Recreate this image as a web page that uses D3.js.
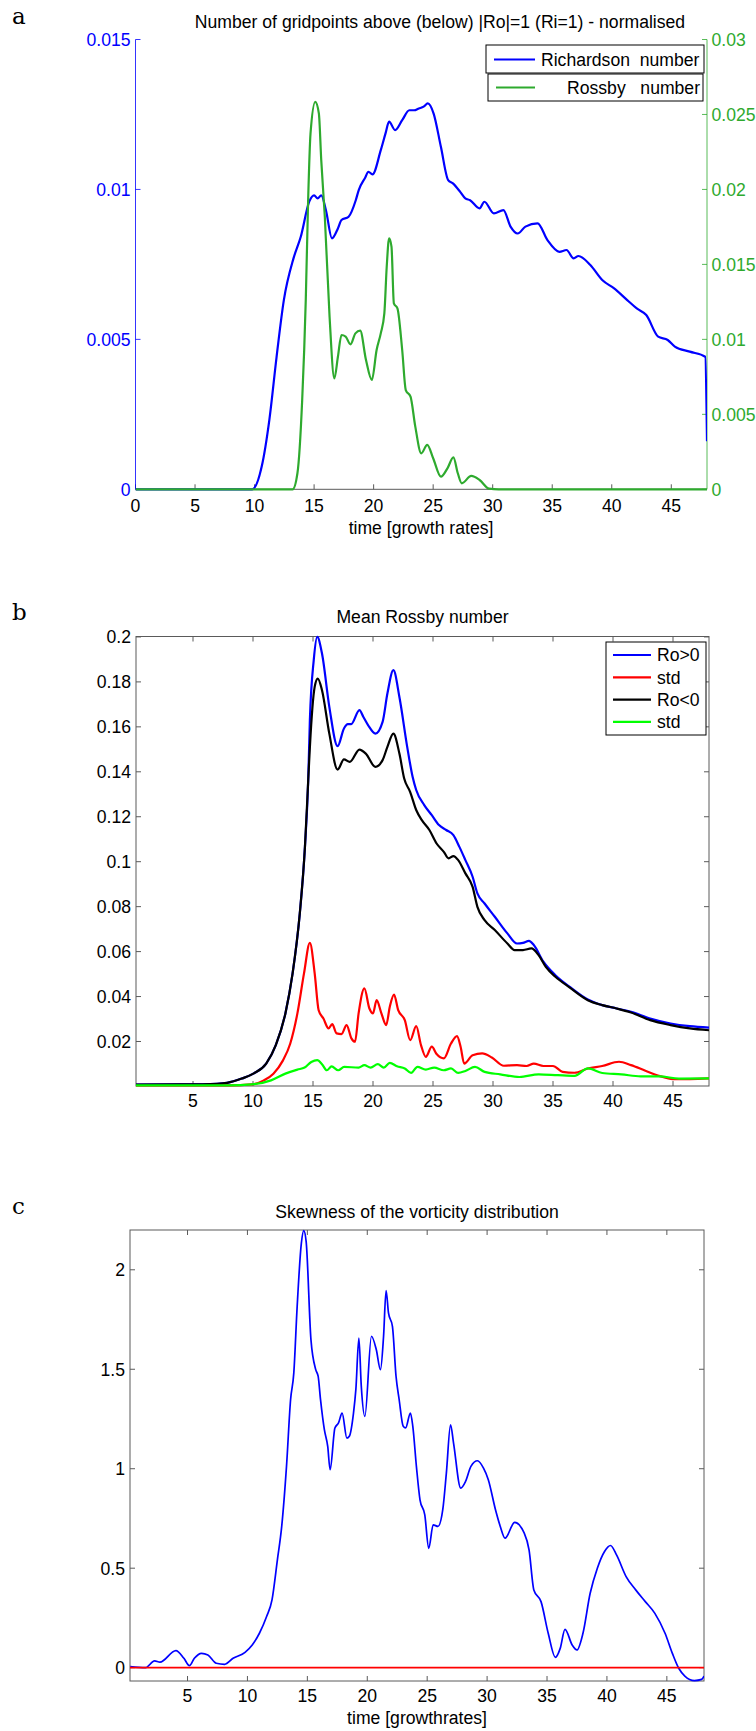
<!DOCTYPE html>
<html>
<head>
<meta charset="utf-8">
<script src="https://cdn.jsdelivr.net/npm/d3@7"></script>
<style>
	body { margin: 0; background: #fff; }
	text { font-family: "Liberation Sans", Arial, sans-serif; font-size: 17.6px; }
	.panel_Letter { font-family: "DejaVu Serif", "Liberation Serif", serif; font-size: 23px; }
</style>
</head>
<body>
<svg id="figure" width="756" height="1731"></svg>
<script>

/* PANEL A : gridpoints above (below) |Ro|=1 (Ri=1) */
var richardson_Time = [0, 9.8, 10.6, 11.24, 11.85, 12.46, 13.27, 13.88, 14.6, 15.0, 15.3, 15.6, 16.0, 16.5, 17.0, 17.3, 17.9, 18.5, 18.75, 19.3, 19.56, 19.9, 20.6, 21.0, 21.3, 21.8, 22.4, 23.0, 23.4, 23.8, 24.2, 24.55, 25.04, 25.65, 26.26, 26.66, 27.27, 27.7, 28.1, 28.9, 29.3, 30.1, 30.9, 31.5, 32.1, 32.75, 33.77, 34.6, 35.6, 36.2, 36.8, 37.2, 38.2, 39.2, 40.2, 41.3, 42.1, 42.9, 43.9, 44.7, 45.3, 46.55, 47.85, 48];
var richardson_Value = [0, 0, 0.00076, 0.00231, 0.00442, 0.00631, 0.0077, 0.00842, 0.0096, 0.0098, 0.0097, 0.0098, 0.0093, 0.00837, 0.0087, 0.00898, 0.00909, 0.00964, 0.00998, 0.0104, 0.01059, 0.0105, 0.01131, 0.01187, 0.01226, 0.01198, 0.01231, 0.01264, 0.01264, 0.0127, 0.01276, 0.01287, 0.01253, 0.01142, 0.01031, 0.0102, 0.00992, 0.0097, 0.00964, 0.00937, 0.00959, 0.0092, 0.00931, 0.00876, 0.00853, 0.00876, 0.00887, 0.00831, 0.00792, 0.00798, 0.0077, 0.00778, 0.00748, 0.00698, 0.0067, 0.00631, 0.00603, 0.00581, 0.00509, 0.00498, 0.00476, 0.00459, 0.00442, 0.0016];

var rossby_Time = [0, 13.2, 13.6, 14.0, 14.3, 14.5, 14.7, 15.1, 15.4, 15.6, 15.9, 16.3, 16.7, 17.0, 17.3, 17.65, 18.06, 18.47, 18.87, 19.36, 19.85, 20.25, 20.6, 20.9, 21.1, 21.3, 21.5, 21.7, 22.0, 22.4, 22.7, 23.1, 23.5, 24.0, 24.5, 25.0, 25.65, 26.2, 26.7, 27.07, 27.4, 28.2, 28.9, 29.7, 30.5, 48];
var rossby_Value = [0, 0, 0.00107, 0.00596, 0.0126, 0.0193, 0.02373, 0.02584, 0.02507, 0.02196, 0.01818, 0.01151, 0.0074, 0.00884, 0.01029, 0.01018, 0.00967, 0.0104, 0.01058, 0.00862, 0.00729, 0.00929, 0.0104, 0.01173, 0.01484, 0.01673, 0.01618, 0.0124, 0.01207, 0.00929, 0.00662, 0.00618, 0.00418, 0.0024, 0.00296, 0.00207, 0.00084, 0.0014, 0.00213, 0.00107, 0.0004, 0.00089, 0.00062, 0.00004, 0, 0];

var a_X_Ticks = [0, 5, 10, 15, 20, 25, 30, 35, 40, 45];
var a_Left_Ticks = [0, 0.005, 0.01, 0.015];
var a_Right_Ticks = [0, 0.005, 0.01, 0.015, 0.02, 0.025, 0.03];

/* PANEL B : mean Rossby number */
var ro_Positive_Time = [0.25, 4, 7, 7.84, 9.06, 10.07, 11.1, 11.9, 12.7, 13.3, 13.9, 14.33, 14.6, 14.74, 15.06, 15.35, 15.75, 16.36, 17.05, 17.58, 17.9, 18.18, 18.87, 19.2, 19.6, 20.2, 20.8, 21.2, 21.7, 22.2, 22.85, 23.3, 23.6, 24.27, 24.9, 25.5, 26.1, 26.7, 27.2, 27.7, 28.3, 28.7, 29.3, 30.15, 31.2, 32.0, 32.5, 33.0, 33.4, 34.2, 35.2, 36.4, 37.9, 39.1, 40.3, 41.5, 43.1, 44.8, 46.4, 48];
var ro_Positive_Value = [0.0008, 0.0009, 0.0012, 0.0016, 0.0035, 0.0058, 0.0102, 0.0184, 0.0325, 0.0503, 0.077, 0.1067, 0.136, 0.163, 0.1896, 0.2, 0.1926, 0.1689, 0.1514, 0.1593, 0.1612, 0.1612, 0.1674, 0.1644, 0.1607, 0.157, 0.1622, 0.1748, 0.1852, 0.1733, 0.1511, 0.1378, 0.1319, 0.1252, 0.1207, 0.1163, 0.1141, 0.1118, 0.1066, 0.1007, 0.0933, 0.0859, 0.0814, 0.0755, 0.0681, 0.0636, 0.0639, 0.0648, 0.0629, 0.0555, 0.0495, 0.0443, 0.0387, 0.0362, 0.0347, 0.0332, 0.0302, 0.028, 0.0268, 0.0262];

var ro_Positive_Std_Time = [0.25, 8, 9.9, 10.9, 11.7, 12.5, 13.1, 13.7, 14.25, 14.74, 15.14, 15.47, 15.87, 16.3, 16.6, 16.97, 17.37, 17.8, 18.2, 18.5, 18.8, 19.28, 19.7, 20.0, 20.3, 20.7, 21.1, 21.4, 21.75, 22.1, 22.65, 23.1, 23.6, 24.0, 24.4, 24.9, 25.3, 25.9, 26.5, 27.0, 27.3, 27.6, 28.3, 29.1, 29.9, 30.9, 32.0, 32.8, 33.4, 34.2, 35.0, 35.8, 36.8, 37.9, 39.1, 40.5, 41.5, 42.7, 43.9, 45.2, 46.4, 48];
var ro_Positive_Std_Value = [0.0005, 0.0005, 0.0009, 0.0027, 0.0057, 0.0116, 0.019, 0.0325, 0.0503, 0.0639, 0.0503, 0.0339, 0.0302, 0.0258, 0.0277, 0.0236, 0.0233, 0.0273, 0.0214, 0.0199, 0.0325, 0.0436, 0.0347, 0.0325, 0.0384, 0.0325, 0.0273, 0.0355, 0.0409, 0.034, 0.0295, 0.0206, 0.0268, 0.0184, 0.0132, 0.0177, 0.0144, 0.0125, 0.0191, 0.0224, 0.0177, 0.0102, 0.0139, 0.0147, 0.0129, 0.0092, 0.0095, 0.0091, 0.0102, 0.0091, 0.0091, 0.0065, 0.0061, 0.008, 0.0091, 0.011, 0.0095, 0.007, 0.0046, 0.0032, 0.0033, 0.0036];

var ro_Negative_Time = [0.25, 4, 7, 7.84, 9.06, 10.07, 11.1, 11.9, 12.7, 13.3, 13.9, 14.33, 14.6, 14.74, 15.14, 15.4, 15.75, 16.36, 17.05, 17.58, 18.06, 18.87, 19.4, 20.2, 20.8, 21.2, 21.7, 22.2, 22.6, 23.1, 23.6, 24.07, 24.7, 25.3, 25.9, 26.3, 26.7, 27.1, 27.7, 28.3, 28.7, 29.3, 30.15, 31.2, 31.8, 32.5, 33.2, 33.8, 34.4, 35.2, 36.4, 37.9, 39.1, 40.3, 41.5, 43.1, 44.8, 46.4, 48];
var ro_Negative_Value = [0.0008, 0.0009, 0.0012, 0.0016, 0.0035, 0.0058, 0.0102, 0.0184, 0.0325, 0.0503, 0.077, 0.1067, 0.136, 0.151, 0.1778, 0.1815, 0.1763, 0.157, 0.141, 0.1455, 0.1444, 0.1499, 0.1481, 0.1422, 0.1452, 0.1511, 0.157, 0.1481, 0.137, 0.131, 0.123, 0.1185, 0.1141, 0.1081, 0.1044, 0.1015, 0.1025, 0.1007, 0.0948, 0.0888, 0.0799, 0.074, 0.0696, 0.0636, 0.0607, 0.0607, 0.0614, 0.0584, 0.0532, 0.0488, 0.044, 0.0384, 0.0362, 0.0347, 0.0329, 0.0295, 0.0273, 0.0258, 0.025];

var ro_Negative_Std_Time = [0.25, 8, 9.9, 11.5, 12.7, 13.7, 14.3, 14.86, 15.35, 15.75, 16.15, 16.55, 17.1, 17.6, 18.8, 19.28, 19.8, 20.4, 20.9, 21.4, 22.0, 22.65, 23.17, 23.7, 24.4, 25.1, 25.9, 26.5, 27.1, 27.7, 28.5, 29.3, 30.6, 32.2, 33.8, 35.4, 36.8, 37.9, 39.1, 40.7, 42.3, 43.9, 45.5, 48];
var ro_Negative_Std_Value = [0.0005, 0.0005, 0.0009, 0.0027, 0.0057, 0.0075, 0.0084, 0.0109, 0.0117, 0.0099, 0.0072, 0.0089, 0.0072, 0.0087, 0.0084, 0.0095, 0.0084, 0.0099, 0.0084, 0.0105, 0.009, 0.008, 0.006, 0.0087, 0.0075, 0.0084, 0.0072, 0.008, 0.006, 0.0069, 0.0087, 0.0065, 0.0054, 0.0042, 0.0054, 0.005, 0.0047, 0.008, 0.006, 0.0054, 0.0045, 0.0045, 0.0035, 0.0036];

var b_X_Ticks = [5, 10, 15, 20, 25, 30, 35, 40, 45];
var b_Y_Ticks = [0.02, 0.04, 0.06, 0.08, 0.1, 0.12, 0.14, 0.16, 0.18, 0.2];
var b_Legend_Labels = ["Ro>0", "std", "Ro<0", "std"];

/* PANEL C : skewness of the vorticity distribution */
var skewness_Time = [0.22, 1.5, 2.25, 2.7, 4.03, 4.7, 5.16, 5.57, 6.17, 6.7, 7.4, 8.1, 8.8, 9.8, 10.4, 11.0, 11.6, 12.05, 12.5, 12.86, 13.26, 13.6, 13.87, 14.15, 14.5, 14.7, 14.9, 15.3, 15.7, 15.9, 16.1, 16.42, 16.7, 16.9, 17.3, 17.6, 17.9, 18.3, 18.5, 18.85, 19.05, 19.3, 19.5, 19.8, 20.35, 20.75, 21.1, 21.36, 21.57, 21.77, 22.1, 22.4, 22.66, 23.0, 23.2, 23.6, 23.8, 24.1, 24.4, 24.8, 25.13, 25.5, 25.9, 26.3, 26.6, 26.95, 27.2, 27.8, 28.2, 28.65, 29.2, 29.7, 30.1, 30.7, 31.1, 31.5, 32.3, 33.1, 33.5, 33.9, 34.5, 35.1, 35.7, 36.1, 36.5, 37.1, 37.5, 38.0, 38.6, 39.2, 39.8, 40.3, 40.8, 41.6, 42.4, 43.2, 44.0, 44.85, 45.46, 45.99, 46.5, 47.3, 47.9, 48.1];
var skewness_Value = [0.005, 0, 0.034, 0.028, 0.086, 0.047, 0.01, 0.047, 0.072, 0.064, 0.022, 0.017, 0.047, 0.077, 0.114, 0.173, 0.257, 0.341, 0.542, 0.71, 1.012, 1.347, 1.482, 1.816, 2.134, 2.197, 2.142, 1.649, 1.498, 1.465, 1.347, 1.196, 1.112, 0.995, 1.205, 1.23, 1.28, 1.154, 1.163, 1.28, 1.4, 1.657, 1.415, 1.263, 1.666, 1.599, 1.498, 1.666, 1.896, 1.783, 1.716, 1.465, 1.348, 1.213, 1.205, 1.28, 1.213, 1.012, 0.844, 0.768, 0.6, 0.718, 0.71, 0.794, 0.978, 1.221, 1.129, 0.903, 0.936, 1.012, 1.04, 1.003, 0.945, 0.794, 0.71, 0.651, 0.73, 0.676, 0.592, 0.391, 0.332, 0.173, 0.052, 0.097, 0.193, 0.114, 0.089, 0.173, 0.374, 0.5, 0.584, 0.614, 0.567, 0.458, 0.391, 0.332, 0.273, 0.173, 0.072, -0.003, -0.042, -0.065, -0.059, -0.042];

var c_X_Ticks = [5, 10, 15, 20, 25, 30, 35, 40, 45];
var c_Y_Ticks = [0, 0.5, 1, 1.5, 2];


/* APPLICATION COLOURS */
var blue_Colour = "#0000ff";
var dark_Green_Colour = "#2eaa2e";
var bright_Green_Colour = "#00ff00";
var red_Colour = "#ff0000";
var axis_Colour = "#5a5a5a";

var svg = d3.select("#figure");

/*
	Name:		tick_Label
	Operations:	1) matlab style number, no trailing zeros
*/
function tick_Label(value){
	return String(+value.toFixed(4));
}

/*
	Name:		zip_Series
	Operations:	1) join time and value arrays into points
*/
function zip_Series(time, value){
	return time.map(function(t, index){ return [t, value[index]]; });
}

/*
	Name:		draw_Line
	Operations:	1) append smooth path through points using given scales
*/
function draw_Line(group, points, x, y, colour, width){
	var line = d3.line()
				 .x(function(d){ return x(d[0]); })
				 .y(function(d){ return y(d[1]); })
				 .curve(d3.curveMonotoneX);

	group.append("path")
		 .attr("d", line(points))
		 .attr("fill", "none")
		 .attr("stroke", colour)
		 .attr("stroke-width", width)
		 .attr("stroke-linejoin", "round");
}

/*
	Name:		draw_Box_Axes
	Operations:	1) box with inner ticks on four sides (panels b and c)
*/
function draw_Box_Axes(x, y, x_Ticks, y_Ticks, label_Baseline){
	var x0 = x.range()[0], x1 = x.range()[1];
	var y0 = y.range()[0], y1 = y.range()[1];
	var g = svg.append("g");

	g.append("rect")
	 .attr("x", x0).attr("y", y1)
	 .attr("width", x1 - x0).attr("height", y0 - y1)
	 .attr("fill", "none").attr("stroke", axis_Colour).attr("stroke-width", 1);

	x_Ticks.forEach(function(t){
		g.append("line").attr("x1", x(t)).attr("x2", x(t)).attr("y1", y0).attr("y2", y0 - 5).attr("stroke", axis_Colour);
		g.append("line").attr("x1", x(t)).attr("x2", x(t)).attr("y1", y1).attr("y2", y1 + 5).attr("stroke", axis_Colour);
		g.append("text").attr("x", x(t)).attr("y", label_Baseline).attr("text-anchor", "middle").text(tick_Label(t));
	});

	y_Ticks.forEach(function(v){
		g.append("line").attr("x1", x0).attr("x2", x0 + 5).attr("y1", y(v)).attr("y2", y(v)).attr("stroke", axis_Colour);
		g.append("line").attr("x1", x1).attr("x2", x1 - 5).attr("y1", y(v)).attr("y2", y(v)).attr("stroke", axis_Colour);
		g.append("text").attr("x", x0 - 5).attr("y", y(v) + 6.3).attr("text-anchor", "end").text(tick_Label(v));
	});
}

/*
	Name:		clip_Group
	Operations:	1) group clipped to plotting area
*/
function clip_Group(id, x, y){
	var x0 = x.range()[0], x1 = x.range()[1];
	var y0 = y.range()[0], y1 = y.range()[1];
	svg.append("clipPath").attr("id", id)
	   .append("rect").attr("x", x0).attr("y", y1 - 2).attr("width", x1 - x0).attr("height", y0 - y1 + 4);
	return svg.append("g").attr("clip-path", "url(#" + id + ")");
}


/* ---------------- PANEL A ---------------- */
var a_X = d3.scaleLinear().domain([0, 48]).range([135.5, 707]);
var a_Left_Y = d3.scaleLinear().domain([0, 0.015]).range([489.3, 39.5]);
var a_Right_Y = d3.scaleLinear().domain([0, 0.03]).range([489.3, 39.5]);

svg.append("text").attr("class", "panel_Letter").attr("x", 12).attr("y", 23.5).text("a");
svg.append("text").attr("x", 440).attr("y", 27.5).attr("text-anchor", "middle")
   .text("Number of gridpoints above (below) |Ro|=1 (Ri=1) - normalised");

/* bottom axis */
svg.append("line").attr("x1", 135.5).attr("x2", 707).attr("y1", 489.3).attr("y2", 489.3).attr("stroke", axis_Colour);
a_X_Ticks.forEach(function(t){
	svg.append("line").attr("x1", a_X(t)).attr("x2", a_X(t)).attr("y1", 489.3).attr("y2", 484.3).attr("stroke", axis_Colour);
	svg.append("text").attr("x", a_X(t)).attr("y", 511.5).attr("text-anchor", "middle").text(tick_Label(t));
});
svg.append("text").attr("x", 421).attr("y", 534).attr("text-anchor", "middle").text("time [growth rates]");

/* left (blue) and right (green) axes */
svg.append("line").attr("x1", 135.5).attr("x2", 135.5).attr("y1", 39.5).attr("y2", 489.3).attr("stroke", blue_Colour).attr("stroke-width", 0.8);
a_Left_Ticks.forEach(function(v){
	svg.append("line").attr("x1", 135.5).attr("x2", 140.5).attr("y1", a_Left_Y(v)).attr("y2", a_Left_Y(v)).attr("stroke", blue_Colour).attr("stroke-width", 0.8);
	svg.append("text").attr("x", 130.5).attr("y", a_Left_Y(v) + 6.3).attr("text-anchor", "end").attr("fill", blue_Colour).text(tick_Label(v));
});
svg.append("line").attr("x1", 707).attr("x2", 707).attr("y1", 39.5).attr("y2", 489.3).attr("stroke", dark_Green_Colour).attr("stroke-width", 0.8);
a_Right_Ticks.forEach(function(v){
	svg.append("line").attr("x1", 707).attr("x2", 702).attr("y1", a_Right_Y(v)).attr("y2", a_Right_Y(v)).attr("stroke", dark_Green_Colour).attr("stroke-width", 0.8);
	svg.append("text").attr("x", 711.5).attr("y", a_Right_Y(v) + 6.3).attr("fill", dark_Green_Colour).text(tick_Label(v));
});

var a_Plot = clip_Group("clip_A", a_X, a_Left_Y);
draw_Line(a_Plot, zip_Series(richardson_Time, richardson_Value), a_X, a_Left_Y, blue_Colour, 2.2);
draw_Line(a_Plot, zip_Series(rossby_Time, rossby_Value), a_X, a_Right_Y, dark_Green_Colour, 2.2);

/* two legend boxes */
var a_Legend = [
	{box: [486, 45, 218, 28], line: [494, 535, 59.5], text_X: 541, anchor: "start", label: "Richardson  number", colour: blue_Colour},
	{box: [488, 74, 215, 27], line: [496, 535, 87.5], text_X: 700, anchor: "end", label: "Rossby   number", colour: dark_Green_Colour}
];
a_Legend.forEach(function(entry){
	svg.append("rect").attr("x", entry.box[0]).attr("y", entry.box[1]).attr("width", entry.box[2]).attr("height", entry.box[3])
	   .attr("fill", "#fff").attr("stroke", "#000").attr("stroke-width", 1);
	svg.append("line").attr("x1", entry.line[0]).attr("x2", entry.line[1]).attr("y1", entry.line[2]).attr("y2", entry.line[2])
	   .attr("stroke", entry.colour).attr("stroke-width", 2.2);
	svg.append("text").attr("x", entry.text_X).attr("y", entry.line[2] + 6.3).attr("text-anchor", entry.anchor)
	   .style("white-space", "pre").text(entry.label);
});


/* ---------------- PANEL B ---------------- */
var b_X = d3.scaleLinear().domain([0.25, 48]).range([136, 709]);
var b_Y = d3.scaleLinear().domain([0.0002, 0.2002]).range([1086, 636.5]);

svg.append("text").attr("class", "panel_Letter").attr("x", 12).attr("y", 620).text("b");
svg.append("text").attr("x", 422.5).attr("y", 623).attr("text-anchor", "middle").text("Mean Rossby number");

draw_Box_Axes(b_X, b_Y, b_X_Ticks, b_Y_Ticks, 1107);

var b_Plot = clip_Group("clip_B", b_X, b_Y);
var b_Series = [
	{points: zip_Series(ro_Positive_Time, ro_Positive_Value), colour: blue_Colour},
	{points: zip_Series(ro_Positive_Std_Time, ro_Positive_Std_Value), colour: red_Colour},
	{points: zip_Series(ro_Negative_Time, ro_Negative_Value), colour: "#000000"},
	{points: zip_Series(ro_Negative_Std_Time, ro_Negative_Std_Value), colour: bright_Green_Colour}
];
b_Series.forEach(function(series){
	draw_Line(b_Plot, series.points, b_X, b_Y, series.colour, 2.2);
});

/* legend */
svg.append("rect").attr("x", 606).attr("y", 642).attr("width", 100).attr("height", 93)
   .attr("fill", "#fff").attr("stroke", "#000").attr("stroke-width", 1);
b_Legend_Labels.forEach(function(label, index){
	var row_Y = 655 + index * 22.3;
	svg.append("line").attr("x1", 613).attr("x2", 651).attr("y1", row_Y).attr("y2", row_Y)
	   .attr("stroke", b_Series[index].colour).attr("stroke-width", 2.2);
	svg.append("text").attr("x", 657).attr("y", row_Y + 6.3).text(label);
});


/* ---------------- PANEL C ---------------- */
var c_X = d3.scaleLinear().domain([0.2, 48.1]).range([130, 704]);
var c_Y = d3.scaleLinear().domain([-0.067, 2.2]).range([1681, 1230]);

svg.append("text").attr("class", "panel_Letter").attr("x", 12).attr("y", 1214).text("c");
svg.append("text").attr("x", 417).attr("y", 1218).attr("text-anchor", "middle").text("Skewness of the vorticity distribution");

draw_Box_Axes(c_X, c_Y, c_X_Ticks, c_Y_Ticks, 1702);
svg.append("text").attr("x", 417).attr("y", 1723.5).attr("text-anchor", "middle").text("time [growthrates]");

var c_Plot = clip_Group("clip_C", c_X, c_Y);
draw_Line(c_Plot, zip_Series(skewness_Time, skewness_Value), c_X, c_Y, blue_Colour, 1.7);
draw_Line(c_Plot, [[0.2, 0], [48.1, 0]], c_X, c_Y, red_Colour, 1.7);

</script>
</body>
</html>
